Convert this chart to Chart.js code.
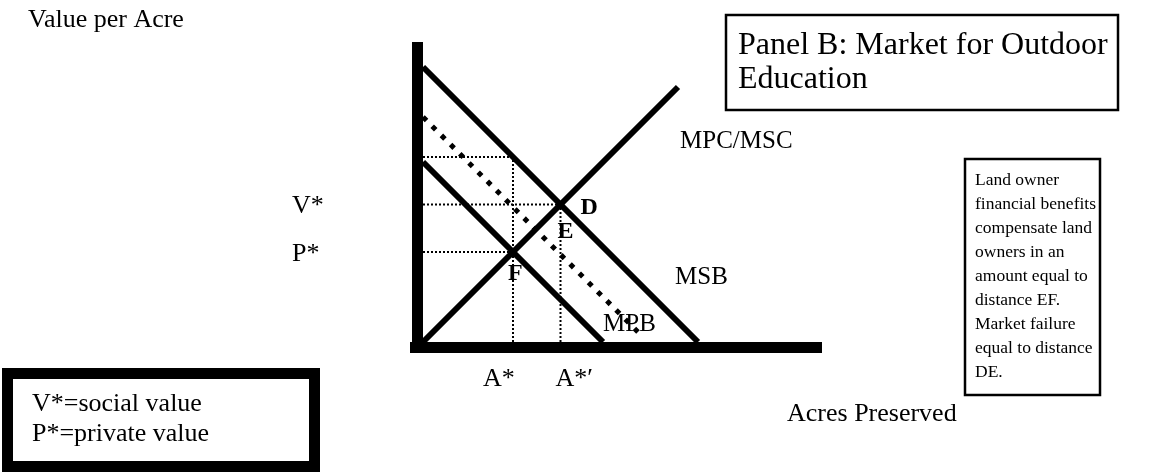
<!DOCTYPE html>
<html>
<head>
<meta charset="utf-8">
<script src="https://cdn.jsdelivr.net/npm/chart.js@4.4.1/dist/chart.umd.min.js"></script>
<style>
  html, body { margin: 0; padding: 0; background: #fff; }
  #chartMarket { display: block; }
</style>
</head>
<body>
<canvas id="chartMarket" width="1160" height="473"></canvas>
<script>
// curves (value per acre vs acres preserved, arbitrary units)
const curveNames = ['MSB', 'MPB', 'MPC/MSC'];
const msbLine = [{x: 0, y: 27.5}, {x: 27.5, y: 0}];
const mpbLine = [{x: 0, y: 18}, {x: 18, y: 0}];
const mpcLine = [{x: 0, y: 0}, {x: 25.5, y: 25.5}];
// MPB plus land owner benefit (dotted)
const benefitLine = [{x: 0, y: 22.5}, {x: 22, y: 0.5}];

// equilibrium values
const valueLabels = ['V*', 'P*'];
const valueLevels = [13.75, 9];
const acreLabels = ['A*', 'A*\u2032'];
const acreLevels = [9, 13.75];
const msbAtAStar = 18.5;
const pointNames = ['D', 'E', 'F'];

// axes
const yAxisLine = [{x: -0.55, y: -1.1}, {x: -0.55, y: 30}];
const xAxisLine = [{x: -1.3, y: -0.55}, {x: 39.9, y: -0.55}];

const serif = '"Liberation Serif", "DejaVu Serif", serif';

function solid(data, w) {
  return { data: data, showLine: true, borderColor: '#000', borderWidth: w,
           pointRadius: 0, clip: false, borderCapStyle: 'butt' };
}
function dotted(data) {
  return { data: data, showLine: true, borderColor: '#000', borderWidth: 2,
           borderDash: [2, 2], pointRadius: 0, clip: false, borderCapStyle: 'butt' };
}

// dotted guide lines from the equilibrium values
const guides = [
  [{x: 0, y: valueLevels[0]}, {x: acreLevels[1], y: valueLevels[0]}],
  [{x: 0, y: valueLevels[1]}, {x: acreLevels[0], y: valueLevels[1]}],
  [{x: 0, y: msbAtAStar}, {x: acreLevels[0], y: msbAtAStar}],
  [{x: acreLevels[0], y: 0}, {x: acreLevels[0], y: msbAtAStar}],
  [{x: acreLevels[1], y: 0}, {x: acreLevels[1], y: valueLevels[0]}]
];

const benefitSet = solid(benefitLine, 5);
benefitSet.borderDash = [5, 8];

const datasets = [
  solid(yAxisLine, 11),
  solid(xAxisLine, 11),
  solid(msbLine, 6),
  solid(mpbLine, 6),
  solid(mpcLine, 6),
  benefitSet
].concat(guides.map(dotted));

const textPlugin = {
  id: 'diagramText',
  afterDatasetsDraw(chart) {
    const c = chart.ctx;
    const px = v => chart.scales.x.getPixelForValue(v);
    const py = v => chart.scales.y.getPixelForValue(v);
    c.save();
    c.fillStyle = '#000';
    c.strokeStyle = '#000';
    c.textAlign = 'left';

    // axis titles
    c.font = '26px ' + serif;
    c.textBaseline = 'alphabetic';
    c.fillText('Value per Acre', 28, 27);
    c.fillText('Acres Preserved', 787, 421);

    // V*, P* and A*, A*'
    c.textBaseline = 'middle';
    valueLabels.forEach((t, i) => c.fillText(t, 292, py(valueLevels[i]) + 2));
    c.textBaseline = 'alphabetic';
    c.fillText(acreLabels[0], px(acreLevels[0]) - 30, 386);
    c.fillText(acreLabels[1], px(acreLevels[1]) - 5, 386);

    // curve names
    c.font = '25px ' + serif;
    c.textBaseline = 'middle';
    c.fillText(curveNames[2], 680, 141);
    c.fillText(curveNames[0], 675, 277);
    c.fillText(curveNames[1], 603, 324);

    // points
    c.font = 'bold 24px ' + serif;
    c.fillText(pointNames[0], px(acreLevels[1]) + 20, py(valueLevels[0]) + 3);
    c.fillText(pointNames[1], px(acreLevels[1]) - 3, 232);
    c.fillText(pointNames[2], px(acreLevels[0]) - 5, 274);

    // panel title box
    c.lineWidth = 2.5;
    c.strokeRect(726, 15, 392, 95);
    c.font = '32px ' + serif;
    c.textBaseline = 'alphabetic';
    c.fillText('Panel B: Market for Outdoor', 738, 54);
    c.fillText('Education', 738, 88);

    // note box
    c.strokeRect(965, 159, 135, 236);
    c.font = '17.5px ' + serif;
    const note = ['Land owner', 'financial benefits', 'compensate land', 'owners in an',
                  'amount equal to', 'distance EF.', 'Market failure', 'equal to distance', 'DE.'];
    note.forEach((t, i) => c.fillText(t, 975, 185 + i * 24));

    // legend box
    c.lineWidth = 11;
    c.strokeRect(7.5, 373.5, 307, 93);
    c.font = '26px ' + serif;
    c.fillText('V*=social value', 32, 411);
    c.fillText('P*=private value', 32, 441);
    c.restore();
  }
};

new Chart(document.getElementById('chartMarket'), {
  type: 'scatter',
  data: { datasets: datasets },
  options: {
    responsive: false,
    animation: false,
    layout: { padding: { left: 409, right: 337, top: 42, bottom: 119 } },
    scales: {
      x: { type: 'linear', min: -1.4, max: 40, display: false },
      y: { type: 'linear', min: -1.2, max: 30, display: false }
    },
    plugins: { legend: { display: false }, tooltip: { enabled: false } },
    elements: { line: { tension: 0 } }
  },
  plugins: [textPlugin]
});
</script>
</body>
</html>
